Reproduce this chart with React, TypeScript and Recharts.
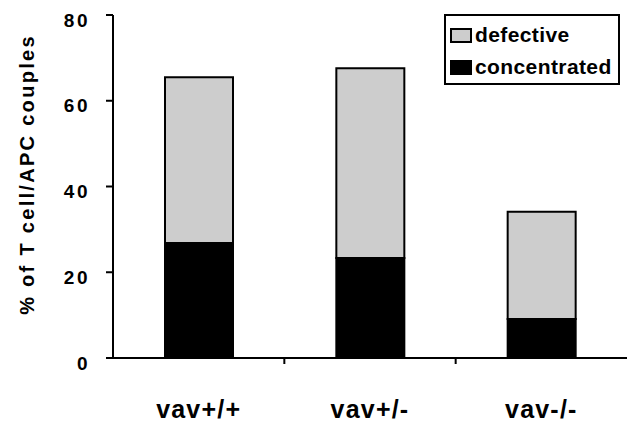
import React from "react";
import { BarChart, Bar, XAxis, YAxis, Legend } from "recharts";

const groups = ["vav+/+", "vav+/-", "vav-/-"];
const concentrated = [26.8, 23.3, 9.1];
const defective = [38.7, 44.3, 25.0];
const yTicks = [0, 20, 40, 60, 80];

const data = groups.map((name, i) => ({
  name,
  concentrated: concentrated[i],
  defective: defective[i],
}));

const font = "'Liberation Sans', Arial, Helvetica, sans-serif";
const labelGap = 42;

const legendItems = [
  { label: "defective", fill: "#cdcdcd" },
  { label: "concentrated", fill: "#000" },
];

const LegendBox = () => (
  <div
    style={{
      boxSizing: "border-box",
      width: 176,
      height: 71,
      border: "2px solid #000",
      background: "#fff",
      paddingTop: 3,
      fontFamily: font,
      fontWeight: 700,
      fontSize: 21,
      letterSpacing: 0.4,
      color: "#000",
    }}
  >
    {legendItems.map((it) => (
      <div
        key={it.label}
        style={{ display: "flex", alignItems: "center", height: 32 }}
      >
        <span
          style={{
            boxSizing: "border-box",
            display: "inline-block",
            width: 22,
            height: 15,
            marginLeft: 4,
            marginRight: 3,
            background: it.fill,
            border: "2px solid #000",
          }}
        />
        <span>{it.label}</span>
      </div>
    ))}
  </div>
);

// category label plus a small tick mark on the boundary to the next group
const GroupTick = (props: any) => {
  const { x, y, payload, index } = props;
  const half = payload && typeof payload.offset === "number" ? payload.offset : 0;
  const axisY = y - labelGap;
  return (
    <g>
      <text
        x={x}
        y={y}
        dy={18}
        textAnchor="middle"
        fill="#000"
        fontFamily={font}
        fontWeight={700}
        fontSize={25}
        letterSpacing={1.2}
      >
        {payload.value}
      </text>
      {index < groups.length - 1 && half > 0 ? (
        <line
          x1={x + half}
          x2={x + half}
          y1={axisY}
          y2={axisY + 6}
          stroke="#000"
          strokeWidth={2}
        />
      ) : null}
    </g>
  );
};

export default function App() {
  return (
    <div style={{ position: "absolute", left: 0, top: 0, background: "#fff" }}>
      <BarChart
        width={631}
        height={422}
        data={data}
        barSize={68}
        margin={{ top: 15, right: 4, left: 0, bottom: 0 }}
      >
        <XAxis
          dataKey="name"
          height={64}
          tickLine={false}
          tickSize={0}
          tickMargin={labelGap}
          interval={0}
          axisLine={{ stroke: "#000", strokeWidth: 2 }}
          tick={<GroupTick />}
        />
        <YAxis
          width={113}
          domain={[0, 80]}
          ticks={yTicks}
          interval={0}
          tickSize={7}
          tickMargin={16}
          axisLine={{ stroke: "#000", strokeWidth: 2 }}
          tickLine={{ stroke: "#000", strokeWidth: 2 }}
          tick={{
            fill: "#000",
            fontFamily: font,
            fontWeight: 700,
            fontSize: 19,
            letterSpacing: 2.5,
            dy: 5,
          }}
          label={{
            value: "% of T cell/APC couples",
            angle: -90,
            position: "center",
            dx: -30,
            dy: -12,
            fill: "#000",
            fontFamily: font,
            fontWeight: 700,
            fontSize: 20,
            letterSpacing: 2.3,
          }}
        />
        <Legend
          layout="vertical"
          align="center"
          verticalAlign="middle"
          content={() => <LegendBox />}
          wrapperStyle={{ top: 14, left: 444, width: 176, height: 71 }}
        />
        <Bar
          dataKey="concentrated"
          stackId="a"
          fill="#000"
          stroke="#000"
          strokeWidth={2}
          isAnimationActive={false}
        />
        <Bar
          dataKey="defective"
          stackId="a"
          fill="#cdcdcd"
          stroke="#000"
          strokeWidth={2}
          isAnimationActive={false}
        />
      </BarChart>
    </div>
  );
}
